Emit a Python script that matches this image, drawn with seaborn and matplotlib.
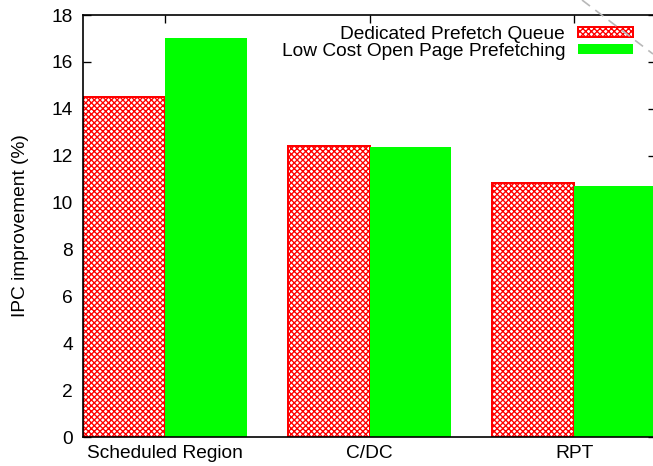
import matplotlib
matplotlib.use("Agg")
import matplotlib.pyplot as plt
from matplotlib.lines import Line2D
import seaborn as sns
import pandas as pd

# IPC improvement per prefetching scheme
categories = ["Scheduled Region", "C/DC", "RPT"]
series_names = ["Dedicated Prefetch Queue", "Low Cost Open Page Prefetching"]
dedicated_queue = [14.5, 12.4, 10.85]
open_page = [17.0, 12.35, 10.7]
y_ticks = [0, 2, 4, 6, 8, 10, 12, 14, 16, 18]

df = pd.DataFrame({
    "benchmark": categories * 2,
    "scheme": [series_names[0]] * len(categories) + [series_names[1]] * len(categories),
    "ipc": dedicated_queue + open_page,
})

sns.set_theme(style="ticks", rc={
    "axes.edgecolor": "black",
    "xtick.color": "black",
    "ytick.color": "black",
    "text.color": "black",
    "axes.labelcolor": "black",
    "hatch.linewidth": 0.8,
})
plt.rcParams["font.family"] = ["Liberation Sans", "DejaVu Sans"]

FS = 11.5
DPI = 120
W, H = 653, 466
fig = plt.figure(figsize=(W / DPI, H / DPI), dpi=DPI)
ax = fig.add_axes([83 / W, 29 / H, 573 / W, 422 / H])

sns.barplot(data=df, x="benchmark", y="ipc", hue="scheme",
            order=categories, hue_order=series_names,
            palette=["#ff0000", "#00ff00"], saturation=1, width=0.8,
            errorbar=None, legend=False, ax=ax)

# crosshatched red bars for the dedicated queue, solid green for open page
for bar in ax.containers[0]:
    bar.set_facecolor("white")
    bar.set_edgecolor("#ff0000")
    bar.set_hatch("x" * 7)
    bar.set_linewidth(1.2)
for bar in ax.containers[1]:
    bar.set_edgecolor("none")
    bar.set_linewidth(0)

ax.set_xlim(-0.4, 2.4)
ax.set_ylim(0, 18)
ax.set_yticks(y_ticks)
ax.set_xlabel("")
ax.set_ylabel("IPC improvement (%)", fontsize=FS)
ax.yaxis.set_label_coords(-0.095, 0.5)

for side in ["left", "right", "top", "bottom"]:
    ax.spines[side].set_visible(True)
    ax.spines[side].set_linewidth(1.0)
    ax.spines[side].set_color("black")

ax.tick_params(axis="both", direction="in", length=5, width=0.8, labelsize=FS)
ax.tick_params(axis="y", left=True, right=True, pad=6.0)
ax.tick_params(axis="x", top=True, bottom=False, pad=4.5)

ax.legend(handles=list(ax.containers), labels=series_names,
          loc="upper right", bbox_to_anchor=(0.96, 0.975),
          frameon=False, markerfirst=False, fontsize=FS,
          handlelength=2.85, handleheight=0.45, handletextpad=0.7,
          labelspacing=0.0, borderpad=0, borderaxespad=0)

# light dashed guide line crossing the top-right corner
fig.add_artist(Line2D([582 / W, 1.0], [1.0, 1 - 54 / H], transform=fig.transFigure,
                      color="#b8b8b8", linestyle=(0, (6, 4)), linewidth=1.0,
                      zorder=3))

fig.savefig("out.png", dpi=DPI)
